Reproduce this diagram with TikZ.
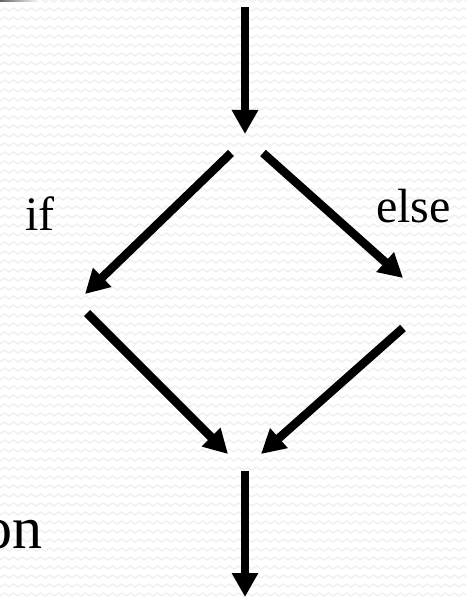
\documentclass[tikz,border=0pt]{standalone}
\usepackage{fontspec}
\setmainfont{Liberation Serif}
\usetikzlibrary{arrows.meta}
\begin{document}
\begin{tikzpicture}[x=1pt,y=-1pt,
  flow/.style={line width=8.5pt,line cap=butt,-{Triangle[length=24pt,width=25pt]}},
  lbl/.style={inner sep=0pt,font=\fontsize{48}{52}\selectfont},
  biglbl/.style={inner sep=0pt,font=\fontsize{60}{64}\selectfont},
  zig/.style={draw=black!6,line width=1.4pt}]
\useasboundingbox (0,0) rectangle (466,599);
\fill[white] (0,0) rectangle (466,599);
\begin{scope}
\clip (0,0) rectangle (466,599);
\foreach \y in {2,11,...,608}{
  \draw[zig] (-9,\y) \foreach \x in {-9,0,...,470}{ -- (\x+4.5,\y-3) -- (\x+9,\y) };
}
\end{scope}
\shade[left color=black!60,right color=white] (0,0) rectangle (40,2);
% coordinates
\coordinate (t0) at (245,7);
\coordinate (t1) at (245,134);
\coordinate (l0) at (231,153);
\coordinate (l1) at (85,294);
\coordinate (r0) at (263,153);
\coordinate (r1) at (403,278);
\coordinate (l2) at (87,313);
\coordinate (m1) at (228,454);
\coordinate (r2) at (403,328);
\coordinate (m2) at (261,454);
\coordinate (b0) at (245,471);
\coordinate (b1) at (245,597);
\draw[flow] (t0) -- (t1);
\draw[flow] (l0) -- (l1);
\draw[flow] (r0) -- (r1);
\draw[flow] (l2) -- (m1);
\draw[flow] (r2) -- (m2);
\draw[flow] (b0) -- (b1);
\node[lbl,anchor=base west] (iflbl) at (25,230) {if};
\node[lbl,anchor=base west] (elselbl) at (376,222) {else};
\node[biglbl,anchor=base east] (onlbl) at (43,548) {on};
\end{tikzpicture}
\end{document}
